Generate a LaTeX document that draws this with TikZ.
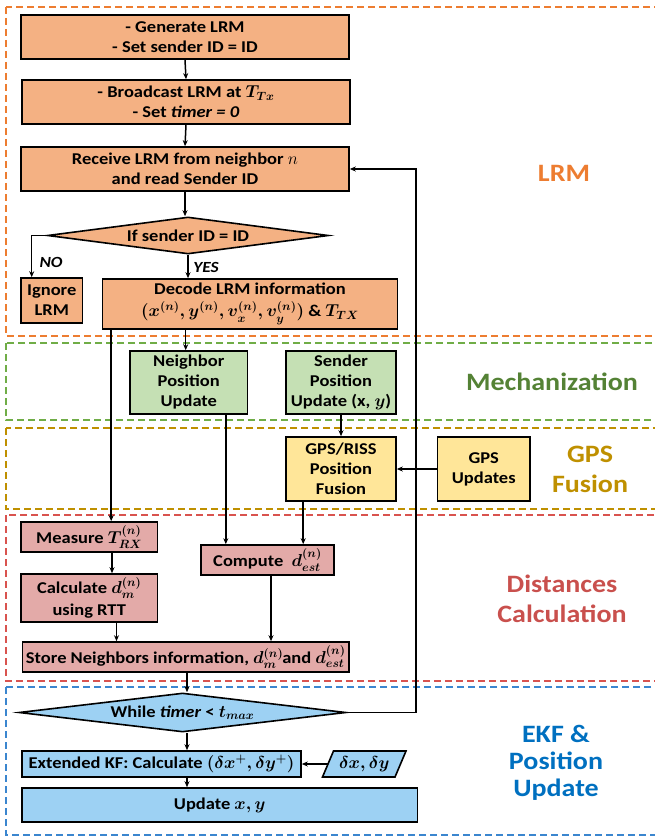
\documentclass[tikz,border=0pt]{standalone}
\usepackage{amsmath}
\usepackage{fontspec}
\setmainfont{Carlito}[FakeStretch=1.12]
\usetikzlibrary{shapes.geometric,arrows.meta}
\definecolor{cOr}{HTML}{F4B183}
\definecolor{cGr}{HTML}{C5E0B4}
\definecolor{cYe}{HTML}{FFE699}
\definecolor{cRd}{HTML}{E3AAA8}
\definecolor{cBl}{HTML}{9DD1F3}
\definecolor{lOr}{HTML}{ED7D31}
\definecolor{lGr}{HTML}{548235}
\definecolor{lYe}{HTML}{BF9000}
\definecolor{lRd}{HTML}{C9504D}
\definecolor{lBl}{HTML}{0070C0}
\definecolor{dGr}{HTML}{70AD47}
\definecolor{dBl}{HTML}{3B86CF}
\definecolor{dRd}{HTML}{D9534F}
\tikzset{
  box/.style={draw, line width=1.6pt, align=center, inner sep=0pt,
    font=\fontsize{16.5}{20}\selectfont\bfseries\boldmath},
  dec/.style={box, diamond, aspect=6},
  arr/.style={line width=1.5pt, -{Stealth[length=6pt,width=5pt]}},
  zone/.style={dash pattern=on 7pt off 4pt, line width=1.1pt},
  zlabel/.style={font=\fontsize{25}{30}\selectfont\bfseries, align=center},
  yn/.style={font=\fontsize{15.5}{16}\selectfont\bfseries\itshape}
}
\begin{document}
\begin{tikzpicture}[x=1pt,y=-1pt]
\useasboundingbox (0,0) rectangle (654,837);
% zones
\draw[zone, lOr] (6,7) rectangle (670,336);
\draw[zone, dGr] (6,343) rectangle (670,420);
\draw[zone, lYe] (6,428) rectangle (670,509);
\draw[zone, dRd] (6,515) rectangle (670,681);
\draw[zone, dBl] (6,687) rectangle (670,835);
% zone labels
\node[zlabel, lOr] (zl1) at (564,173) {LRM};
\node[zlabel, lGr] (zl2) at (552,382) {Mechanization};
\node[zlabel, lYe] (zl3) at (590,469) {GPS\\Fusion};
\node[zlabel, lRd] (zl4) at (562,598.5) {Distances\\Calculation};
\node[zlabel, lBl, font=\fontsize{25}{27}\selectfont\bfseries] (zl5) at (556,763) {EKF \&\\Position\\Update};
% parallelogram outline (drawn first, its text node on top)
\draw[line width=1.6pt, fill=cBl] (322.5,777) -- (333.5,751) -- (406,751) -- (395,777) -- cycle;
% nodes
\node[box, fill=cOr, minimum width=328pt, minimum height=44pt] (gen) at (185,37) {- Generate LRM\\- Set sender ID = ID};
\node[box, fill=cOr, minimum width=328pt, minimum height=44pt] (bc) at (186,102) {- Broadcast LRM at $T_{Tx}$\\- Set \textit{timer = 0}};
\node[box, fill=cOr, minimum width=328pt, minimum height=44pt] (recv) at (185,169) {Receive LRM from neighbor {\unboldmath$n$}\\and read Sender ID};
\node[dec, fill=cOr, minimum width=281pt, minimum height=37pt] (dia) at (188,235.5) {If sender ID = ID};
\node[box, fill=cOr, minimum width=61.5pt, minimum height=45pt] (ign) at (51.75,300.5) {Ignore\\LRM};
\node[box, fill=cOr, minimum width=295pt, minimum height=50pt] (decd) at (250,304) {Decode LRM information\\[2pt]$(x^{(n)}, y^{(n)}, v_x^{(n)}, v_y^{(n)})$ \& $T_{TX}$};
\node[box, fill=cGr, minimum width=117.5pt, minimum height=63pt] (nb) at (188.75,382.5) {Neighbor\\Position\\Update};
\node[box, fill=cGr, minimum width=110pt, minimum height=63pt] (snd) at (341,382.5) {Sender\\Position\\Update (x, $y$)};
\node[box, fill=cYe, minimum width=110pt, minimum height=64pt] (fus) at (341,469) {GPS/RISS\\Position\\Fusion};
\node[box, fill=cYe, minimum width=92.5pt, minimum height=64pt] (gps) at (483.75,469) {GPS\\Updates};
\node[box, fill=cRd, minimum width=136.5pt, minimum height=30pt] (meas) at (89.25,537) {Measure $T_{RX}^{(n)}$};
\node[box, fill=cRd, minimum width=133pt, minimum height=30pt] (comp) at (267.5,560) {Compute \ $d_{est}^{(n)}$};
\node[box, fill=cRd, minimum width=136.5pt, minimum height=48pt] (calc) at (89.25,598) {Calculate $d_m^{(n)}$\\[2pt]using RTT};
\node[box, fill=cRd, minimum width=326.5pt, minimum height=30pt] (store) at (185.75,657) {Store Neighbors information, $d_m^{(n)}$\hspace{-1pt}and $d_{est}^{(n)}$};
\node[dec, fill=cBl, minimum width=327pt, minimum height=39pt] (wh) at (182.5,712.5) {While \textit{timer} < $t_{max}$};
\node[box, fill=cBl, minimum width=279pt, minimum height=26pt] (ekf) at (161.5,764) {Extended KF: Calculate $(\delta x^{+}, \delta y^{+})$};
\node[box, draw=none, minimum width=60pt, minimum height=26pt] (dxy) at (364.25,764) {$\delta x, \delta y$};
\coordinate (dxyw) at (328,764);
\node[box, fill=cBl, minimum width=395.5pt, minimum height=34pt] (upd) at (219.75,805) {Update $x, y$};
% connectors
\draw[arr] (gen.south) -- (bc.north);
\draw[arr] (bc.south) -- (recv.north);
\draw[arr] (recv.south) -- (recv.south |- dia.north);
\draw[arr] (dia.west) -| ([xshift=11.5pt]ign.north west);
\node[yn] (no) at (51,262) {NO};
\draw[arr] (dia.south) -- (dia.south |- decd.north);
\node[yn] (yes) at (206,267) {YES};
\draw[arr] ([xshift=9.5pt]decd.south west) -- ([xshift=9.5pt]decd.south west |- meas.north);
\draw[arr] ([xshift=84pt]decd.south west) -- ([xshift=84pt]decd.south west |- nb.north);
\draw[arr] ([xshift=-22.5pt]nb.south east) -- ([xshift=-22.5pt]nb.south east |- comp.north);
\draw[arr] (snd.south) -- (fus.north);
\draw[arr] (gps.west) -- (fus.east);
\draw[arr] ([xshift=18pt]fus.south west) -- ([xshift=18pt]fus.south west |- comp.north);
\draw[arr] ([xshift=22.75pt]meas.south) -- ([xshift=22.75pt]calc.north);
\draw[arr] ([xshift=27.25pt]calc.south) -- ([xshift=27.25pt]calc.south |- store.north);
\draw[arr] ([xshift=3.5pt]comp.south) -- ([xshift=3.5pt]comp.south |- store.north);
\coordinate (sx) at (187,0);
\draw[arr] (sx |- store.south) -- (sx |- wh.north);
\draw[arr] (sx |- wh.south) -- (sx |- ekf.north);
\draw[arr] (dxyw) -- (ekf.east);
\draw[arr] (sx |- ekf.south) -- (sx |- upd.north);
\coordinate (lx) at (416,0);
\draw[arr] (wh.east) -- (wh.east -| lx) -- (lx |- recv.east) -- (recv.east);
\end{tikzpicture}
\end{document}
